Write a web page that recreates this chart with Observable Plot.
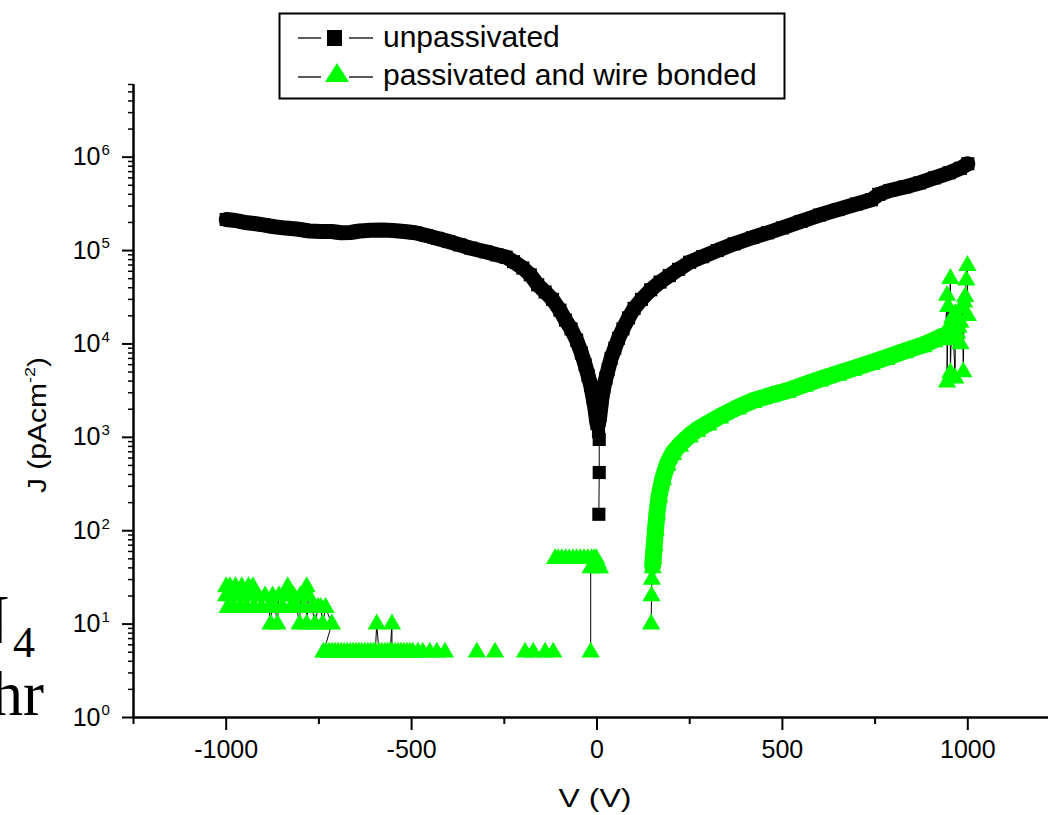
<!DOCTYPE html>
<html><head><meta charset="utf-8">
<style>
html,body{margin:0;padding:0;background:#fff;overflow:hidden;}
#chart{position:relative;width:1048px;height:815px;overflow:hidden;}
</style>
<script src="https://cdn.jsdelivr.net/npm/d3@7"></script>
<script src="https://cdn.jsdelivr.net/npm/@observablehq/plot@0.6"></script>
</head><body><div id="chart"></div>
<script>
// ---------- data (V in volts, J in pA/cm^2) ----------
const seriesNames = ["unpassivated", "passivated and wire bonded"];
const xTitle = "V (V)";
const yTitleMain = "J (pAcm";
const yTitleSup = "-2";
const yTitleEnd = ")";
const xMajorTicks = [-1000, -500, 0, 500, 1000];
const xMinorTicks = [-1250, -750, -250, 250, 750, 1250];
const yMajorTicks = [1, 10, 100, 1e3, 1e4, 1e5, 1e6];
const yExponents = ["0", "1", "2", "3", "4", "5", "6"];

const GAP = [null, null];

// unpassivated: left branch, tail near 0 V, right branch
const unpassLeft = [
  [-1000,2.15e5],[-975,2.1e5],[-950,2.0e5],[-925,1.95e5],[-900,1.88e5],[-870,1.8e5],[-840,1.74e5],
  [-810,1.7e5],[-775,1.62e5],[-745,1.6e5],[-715,1.6e5],[-690,1.55e5],[-665,1.56e5],[-640,1.62e5],
  [-610,1.65e5],[-580,1.66e5],[-550,1.64e5],[-520,1.6e5],[-490,1.55e5],[-460,1.45e5],[-430,1.35e5],
  [-400,1.25e5],[-370,1.15e5],[-340,1.06e5],[-300,9.7e4],[-270,9.0e4],[-245,8.5e4],[-225,7.6e4],
  [-200,6.5e4],[-180,5.5e4],[-160,4.3e4],[-140,3.6e4],[-120,3.0e4],[-100,2.3e4],[-85,1.8e4],
  [-70,1.45e4],[-55,1.1e4],[-42,8e3],[-32,6e3],[-24,4.6e3],[-17,3.6e3],[-11,2.7e3],[-6,2.1e3],
  [-3,1.7e3],[0,1.4e3]
];
const unpassTail = [[4,1.15e3],[6,9.5e2],[6,4.2e2],[5,1.5e2]];
const unpassRight = [
  [6,1.5e3],[9,1.9e3],[13,2.6e3],[18,3.4e3],[24,4.3e3],[30,5.3e3],[38,7e3],[48,9e3],[58,1.15e4],
  [70,1.45e4],[85,1.9e4],[100,2.4e4],[120,3.0e4],[145,3.8e4],[170,4.6e4],[195,5.4e4],[220,6.3e4],
  [250,7.5e4],[285,8.6e4],[324,1.0e5],[370,1.18e5],[420,1.38e5],[460,1.55e5],[500,1.75e5],
  [550,2.05e5],[600,2.4e5],[650,2.75e5],[700,3.15e5],[740,3.5e5],[760,4.0e5],[790,4.4e5],
  [830,4.8e5],[870,5.3e5],[910,6.0e5],[950,6.8e5],[980,7.6e5],[1000,8.5e5]
];

// passivated and wire bonded: quantised clusters at negative bias
const passLeft = [
  [-1000,25],[-1000,20],[-996,15],[-990,25],[-985,20],[-980,15],[-975,25],[-968,20],[-962,15],
  [-958,25],[-950,20],[-945,15],[-940,25],[-932,20],[-928,25],[-925,15],[-915,20],[-905,15],
  [-895,20],[-885,15],[-880,10],[-875,20],[-868,15],[-862,10],[-858,20],[-848,15],[-840,20],
  [-834,25],[-826,15],[-818,20],[-810,15],[-802,10],[-800,20],[-790,15],[-783,25],[-783,10],
  [-778,20],[-768,15],[-761,10],[-752,15],[-745,15],[-740,10],[-732,15],[-715,10],
  [-738,5],[-730,5],[-722,5],[-714,5],[-706,5],[-698,5],[-690,5],[-682,5],[-674,5],[-666,5],
  [-658,5],[-650,5],[-642,5],[-634,5],[-626,5],[-618,5],[-610,5],[-602,5],[-598,5],[-594,10],
  [-588,5],[-580,5],[-572,5],[-564,5],[-558,5],[-553,10],[-553,5],[-545,5],[-537,5],[-529,5],
  [-521,5],[-513,5],[-505,5],[-497,5],[-483,5],[-470,5],[-451,5],[-432,5],[-410,5],
  GAP,
  [-324,5],
  GAP,
  [-275,5],
  GAP,
  [-194,5],[-172,5],[-140,5],[-118,5],
  GAP,
  [-113,50],[-105,50],[-95,50],[-85,50],[-75,50],[-65,50],[-55,50],[-45,50],[-35,50],[-25,50],
  [-15,50],[-8,50],[-2,50],[2,45],[5,40],[8,40],[-17,40],[-17,5]
];
// onset and steep rise at positive bias
const passOnset = [[146,10],[147,20],[148,30]];
const passRise = [
  [150,40],[152,50],[155,70],[158,100],[162,150],[168,230],[178,350],[190,500],[205,650],
  [224,800],[250,1000],[270,1150],[300,1350],[332,1600],[380,2000],[421,2350],[470,2700],
  [513,3000],[560,3500],[602,4000],[650,4600],[691,5200],[740,6000],[780,6800],[830,8000],
  [880,9300],[910,1.05e4],[930,1.15e4]
];
// scattered burst near +1000 V
const passBurst = [
  [935,1.2e4],[940,1.35e4],[944,3.3e4],[944,1.2e4],[944,3.9e3],[947,2.5e4],[947,1.1e4],
  [950,1.5e4],[953,5.0e4],[953,1.3e4],[953,4.9e3],[956,1.6e4],[958,1.9e4],[961,1.2e4],
  [966,4.3e3],[966,2.1e4],[971,1.3e4],[975,1.5e4],[980,1.7e4],[980,1.0e4],[985,2.4e4],
  [988,5.0e3],[990,2.8e4],[993,3.2e4],[996,4.8e4],[999,6.9e4],[1000,2.0e4]
];

// ---------- build ----------
const toRows = arr => arr.map(([V, J]) => ({V, J}));
const blackSeq = toRows([...unpassLeft, ...unpassTail, GAP, ...unpassRight]);
const greenSeq = toRows([...passLeft, GAP, ...passOnset, ...passRise, ...passBurst]);

const yMinorTicks = [];
for (const base of yMajorTicks) for (let m = 2; m <= 9; m++) if (m * base <= 6e6) yMinorTicks.push(m * base);

const GREEN = "#00ff00";
const xy = {x: "V", y: "J"};

const plot = Plot.plot({
  width: 1048, height: 815,
  marginLeft: 133, marginRight: 0, marginTop: 84, marginBottom: 98,
  style: {fontFamily: '"Liberation Sans", Arial, sans-serif', fontSize: "25px", background: "white", color: "black", overflow: "hidden"},
  x: {domain: [-1250, 1250], range: [133, 1060]},
  y: {type: "log", domain: [1, 6e6], range: [717, 84]},
  marks: [
    Plot.axisY({ticks: yMinorTicks, tickSize: 5, strokeWidth: 1.5, tickFormat: () => "", label: null}),
    Plot.axisY({ticks: yMajorTicks, tickSize: 11, strokeWidth: 2, tickFormat: () => "", label: null}),
    Plot.axisX({ticks: xMinorTicks, tickSize: 7, strokeWidth: 2, tickFormat: () => "", label: null}),
    Plot.axisX({ticks: xMajorTicks, tickSize: 13, tickPadding: 10, strokeWidth: 2, fontSize: 25,
                tickFormat: d => String(d), label: null}),
    Plot.ruleX([-1250], {y1: 1, y2: 6e6, strokeWidth: 2.5}),
    Plot.ruleY([1], {x1: -1250, x2: 1250, strokeWidth: 2.5}),
    Plot.text(yMajorTicks, {y: d => d, frameAnchor: "left", text: () => "10", textAnchor: "end", dx: -33, fontSize: 25}),
    Plot.text(yMajorTicks, {y: d => d, frameAnchor: "left", text: (d, i) => yExponents[i], textAnchor: "start", dx: -32, dy: -7, fontSize: 15}),
    // unpassivated
    Plot.line(blackSeq, {...xy, stroke: "#000", strokeWidth: 1}),
    Plot.line(toRows(unpassLeft), {...xy, stroke: "#000", strokeWidth: 15, strokeLinejoin: "round"}),
    Plot.line(toRows(unpassRight), {...xy, stroke: "#000", strokeWidth: 15, strokeLinejoin: "round"}),
    Plot.dot(blackSeq, {...xy, symbol: "square", r: 7.4, fill: "#000", stroke: null}),
    // passivated and wire bonded
    Plot.line(greenSeq, {...xy, stroke: "#000", strokeWidth: 1}),
    Plot.line(toRows(passRise), {...xy, stroke: GREEN, strokeWidth: 17, strokeLinejoin: "round", dy: -2}),
    Plot.dot(greenSeq, {...xy, symbol: "triangle", r: 6.8, fill: GREEN, stroke: null})
  ]
});

const svg = d3.select(plot);

// axis titles
const yt = svg.append("text")
  .attr("transform", "translate(46,425) rotate(-90) scale(1.2,1)")
  .attr("text-anchor", "middle").attr("font-size", 25).attr("fill", "#000");
yt.append("tspan").text(yTitleMain);
yt.append("tspan").attr("font-size", 15).attr("dy", -11).text(yTitleSup);
yt.append("tspan").attr("dy", 11).text(yTitleEnd);

svg.append("text")
  .attr("transform", "translate(595,807) scale(1.28,1)")
  .attr("text-anchor", "middle").attr("font-size", 25).attr("fill", "#000").text(xTitle);

// cropped slide text at the left edge
const serif = '"Liberation Serif", "Times New Roman", serif';
svg.append("text").attr("x", 9).attr("y", 643).attr("text-anchor", "end")
  .attr("font-family", serif).attr("font-size", 70).attr("fill", "#000").text("N");
svg.append("text").attr("x", 13).attr("y", 657).attr("text-anchor", "start")
  .attr("font-family", serif).attr("font-size", 44).attr("fill", "#000").text("4");
svg.append("text").attr("x", 44).attr("y", 715).attr("text-anchor", "end")
  .attr("font-family", serif).attr("font-size", 63).attr("fill", "#000").text("hr");

// legend
const lg = svg.append("g").attr("text-anchor", "start");
lg.append("rect").attr("x", 279.5).attr("y", 13.5).attr("width", 505).attr("height", 85)
  .attr("fill", "#fff").attr("stroke", "#000").attr("stroke-width", 2);
for (const [x1, x2] of [[298, 321], [349, 373]]) {
  lg.append("line").attr("x1", x1).attr("x2", x2).attr("y1", 38).attr("y2", 38).attr("stroke", "#000").attr("stroke-width", 1.3);
  lg.append("line").attr("x1", x1).attr("x2", x2).attr("y1", 77).attr("y2", 77).attr("stroke", "#000").attr("stroke-width", 1.3);
}
lg.append("rect").attr("x", 327).attr("y", 30).attr("width", 15).attr("height", 16).attr("fill", "#000");
lg.append("text").attr("x", 383).attr("y", 47).attr("text-anchor", "start").attr("font-size", 30).attr("fill", "#000").text(seriesNames[0]);
lg.append("polygon").attr("points", "337,63 325,82 349,82").attr("fill", GREEN);
lg.append("text").attr("x", 383).attr("y", 85).attr("text-anchor", "start").attr("font-size", 30).attr("fill", "#000").text(seriesNames[1]);

document.getElementById("chart").appendChild(plot);
</script></body></html>
